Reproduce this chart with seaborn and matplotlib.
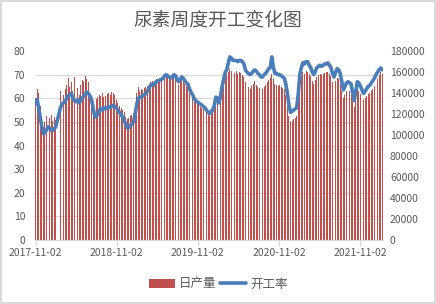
import numpy as np
import pandas as pd
import matplotlib
matplotlib.use("Agg")
import matplotlib.pyplot as plt
import matplotlib.dates as mdates
from matplotlib.ticker import MultipleLocator, FixedLocator
from matplotlib.patches import Patch
from matplotlib.lines import Line2D
import seaborn as sns

# ---------------- data ----------------
title = "尿素周度开工变化图"
bar_name = "日产量"
line_name = "开工率"
tick_dates = ["2017-11-02", "2018-11-02", "2019-11-02", "2020-11-02", "2021-11-02"]
holiday_weeks = ["2018-02-08", "2018-02-15"]
all_weeks = pd.date_range("2017-11-02", periods=224, freq="7D")
dates = all_weeks[~all_weeks.isin(pd.to_datetime(holiday_weeks))]

rate = [
    58, 59.5, 56, 52, 48, 45, 45.5, 46.5, 48, 47.5, 46.5, 46.5, 47, 48,
    56, 57.5, 58, 58.5, 60, 61, 61.5, 62, 60, 59, 58.5, 59.5, 58, 59, 60, 61,
    62, 62.5, 62, 61, 59.5, 56, 52.5, 52, 53.5, 55, 55.5, 55, 56, 55.5, 56, 56.5,
    56, 56.5, 57, 56.5, 56, 55, 54, 53, 52, 50.5, 49, 47.5, 47.5, 48.5, 49, 50,
    53, 57, 60, 60.5, 60.5, 61, 61.5, 62, 63, 64.5, 65.5, 66, 65.5, 66.5, 67, 67.5,
    67.5, 68, 68.5, 69.5, 70, 69.5, 69, 68.5, 69, 70, 69.5, 68, 67, 68, 69, 68.5,
    67.5, 66.5, 66, 64, 62.5, 61.5, 60, 59, 58.5, 58, 57.5, 57, 56.5, 56, 55, 54,
    53.5, 54.5, 55, 57, 60.5, 60, 58, 61, 65, 68, 71, 72, 75, 77.5, 77, 76,
    76, 76, 75.5, 76, 76, 75.5, 74.5, 72, 71, 70.5, 70, 70.5, 71.5, 72, 71.5, 70.5,
    70, 69, 69, 70, 70.5, 71.5, 72.5, 73, 77.5, 73, 70.5, 70.5, 70, 70, 69.5, 69,
    68.5, 66, 62, 57, 54, 54.5, 55, 55.5, 56, 62, 70, 73, 75, 74.5, 75.5, 75.5,
    74, 73, 71, 70, 71.5, 73, 73.5, 74, 73.5, 74, 74.5, 74.5, 75, 74, 73, 70.5,
    69, 71, 72.5, 72, 70.5, 67, 63.5, 65, 66.5, 67, 66.5, 66, 62, 59, 63, 67,
    66.5, 65, 63.5, 62, 63, 64, 65, 65.5, 66.5, 67.5, 68.5, 70, 71, 72, 72.8, 72,
]

production = [
    135000, 144000, 140000, 128000, 118000, 108000, 112000, 118000, 120000, 116000,
    119000, 113000, 117000, 114000,
    142000, 146000, 138000, 144000, 148000, 154000, 146000, 150000, 142000, 155000,
    140000, 145000, 138000, 148000, 152000, 150000, 156000, 153000, 150000, 140000,
    136000, 128000, 126000, 134000, 136000, 138000, 137000, 140000, 136000, 137000,
    139000, 140000, 138000, 141000, 140000, 138000, 133000, 130000, 128000, 126000,
    124000, 122000, 117000, 115000, 116000, 118000, 119000, 121000, 130000, 140000,
    146000, 142000, 144000, 143000, 145000, 146000, 147000, 149000, 150000, 151000,
    150000, 152000, 153000, 152000, 154000, 155000, 154000, 156000, 157000, 155000,
    154000, 152000, 154000, 156000, 155000, 150000, 148000, 151000, 153000, 152000,
    149000, 147000, 146000, 142000, 139000, 137000, 134000, 131000, 130000, 129000,
    127000, 126000, 125000, 124000, 122000, 120000, 118000, 120000, 122000, 126000,
    134000, 132000, 128000, 135000, 143000, 150000, 155000, 158000, 160000, 163000,
    161000, 160000, 159000, 161000, 158000, 160000, 159000, 157000, 155000, 150000,
    148000, 146000, 144000, 147000, 149000, 151000, 148000, 146000, 145000, 143000,
    144000, 146000, 148000, 150000, 152000, 154000, 158000, 153000, 149000, 148000,
    147000, 148000, 146000, 145000, 144000, 138000, 128000, 118000, 112000, 113000,
    115000, 116000, 118000, 130000, 148000, 156000, 160000, 158000, 161000, 160000,
    158000, 156000, 151000, 149000, 152000, 155000, 157000, 158000, 157000, 158000,
    159000, 160000, 160000, 158000, 156000, 150000, 147000, 151000, 154000, 153000,
    149000, 142000, 135000, 138000, 142000, 143000, 142000, 140000, 132000, 127000,
    135000, 143000, 142000, 139000, 136000, 133000, 135000, 137000, 139000, 140000,
    142000, 144000, 147000, 150000, 153000, 157000, 160000, 158000,
]

# ---------------- style ----------------
sns.set_theme(style="white")
plt.rcParams["font.family"] = ["Noto Sans CJK SC", "DejaVu Sans"]

BAR_C = "#C0504D"
LINE_C = "#4A7EBB"
TXT_C = "#595959"
GRID_C = "#D9D9D9"

df = pd.DataFrame({"x": mdates.date2num(dates), "rate": rate, "prod": production})

fig = plt.figure(figsize=(4.36, 3.04), dpi=100)
fig.patch.set_facecolor("white")
fig.patch.set_edgecolor(GRID_C)
fig.patch.set_linewidth(1.5)
ax = fig.add_axes([35 / 436, 1 - 240 / 304, (383 - 35) / 436, (240 - 51) / 304])
ax2 = ax.twinx()

sns.barplot(data=df, x="x", y="prod", native_scale=True, color=BAR_C,
            saturation=1, width=0.6, linewidth=0, errorbar=None, ax=ax)
sns.lineplot(data=df, x="x", y="rate", color=LINE_C, linewidth=2.6, ax=ax2)

# axes
x0 = df["x"].iloc[0]
x1 = df["x"].iloc[-1]
ax.set_xlim(x0 - 2.5, x1 + 3.5)
ax.set_ylim(0, 180000)
ax2.set_ylim(0, 80)

ax.yaxis.tick_right()
ax2.yaxis.tick_left()
ax.yaxis.set_major_locator(MultipleLocator(20000))
ax2.yaxis.set_major_locator(MultipleLocator(10))
ax.yaxis.set_minor_locator(MultipleLocator(22500))
ax.grid(which="minor", axis="y", color=GRID_C, linewidth=0.8)
ax.grid(which="major", visible=False)
ax.set_axisbelow(True)

tick_pos = mdates.date2num(pd.to_datetime(tick_dates))
ax.xaxis.set_major_locator(FixedLocator(tick_pos))
ax.set_xticklabels(tick_dates)

for a in (ax, ax2):
    a.set_xlabel("")
    a.set_ylabel("")
    for s in a.spines.values():
        s.set_visible(False)
ax.spines["bottom"].set_visible(True)
ax.spines["bottom"].set_color(GRID_C)
ax.spines["bottom"].set_linewidth(0.8)

ax.tick_params(axis="x", which="major", length=4, width=0.8, color=GRID_C,
               labelsize=7.5, labelcolor=TXT_C, pad=2, bottom=True)
ax.tick_params(axis="y", which="both", length=0, labelsize=7.5,
               labelcolor=TXT_C, pad=5)
ax2.tick_params(axis="y", length=0, labelsize=7.5, labelcolor=TXT_C, pad=7)

fig.text(0.5, 1 - 20 / 304, title, ha="center", va="center",
         fontsize=13.5, color=TXT_C)

handles = [Patch(facecolor=BAR_C, edgecolor="none"),
           Line2D([0], [0], color=LINE_C, linewidth=2.6)]
fig.legend(handles, [bar_name, line_name], loc="center",
           bbox_to_anchor=(0.5, 1 - 284 / 304), ncol=2, frameon=False,
           fontsize=9, handlelength=2.1, handletextpad=0.3,
           columnspacing=0.3, labelcolor=TXT_C)

fig.savefig("out.png", dpi=100, facecolor="white")
